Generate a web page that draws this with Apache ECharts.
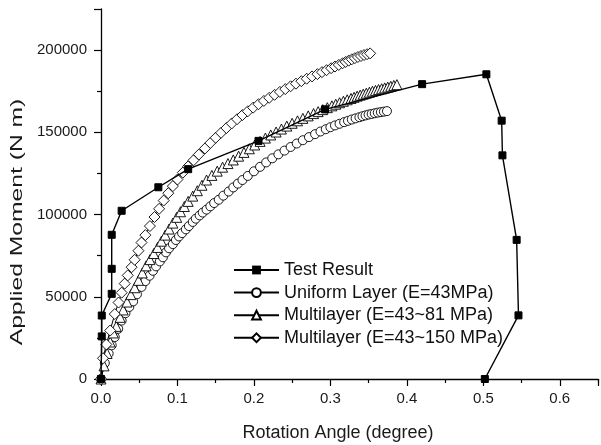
<!DOCTYPE html>
<html>
<head>
<meta charset="utf-8">
<script src="https://cdn.jsdelivr.net/npm/echarts@6/dist/echarts.min.js"></script>
<style>html,body{margin:0;padding:0;background:#fff}#c{width:601px;height:445px}</style>
</head>
<body>
<div id="c"></div>
<script>
const seriesNames = ['Test Result', 'Uniform Layer (E=43MPa)', 'Multilayer (E=43~81 MPa)', 'Multilayer (E=43~150 MPa)'];
const xTicks = [0, 0.1, 0.2, 0.3, 0.4, 0.5, 0.6];
const yTicks = [0, 50000, 100000, 150000, 200000];

const testResult = [[0,0],[0.001,25900],[0.001,38600],[0.014,51800],[0.014,67000],[0.014,87700],[0.027,102300],[0.075,116600],[0.114,127600],[0.206,144800],[0.293,164000],[0.42,179300],[0.504,185300],[0.524,157100],[0.525,136000],[0.5436,84600],[0.546,38700],[0.502,0]];

const uniformLayer = [[0,0],[0.005,9700],[0.01,15500],[0.014,20500],[0.018,25500],[0.0225,30500],[0.027,35500],[0.032,40000],[0.037,43800],[0.042,47200],[0.047,51500],[0.053,56000],[0.058,59500],[0.0635,62800],[0.068,65800],[0.072,68500],[0.077,71500],[0.081,74000],[0.085,77000],[0.089,79500],[0.094,82000],[0.098,84500],[0.102,86700],[0.106,88700],[0.111,91000],[0.115,93000],[0.12,95500],[0.124,97500],[0.129,99500],[0.133,101200],[0.138,103000],[0.143,105000],[0.148,107000],[0.154,109000],[0.16,111500],[0.167,114000],[0.173,116500],[0.179,118800],[0.185,121000],[0.192,123500],[0.2,126300],[0.208,129000],[0.216,131700],[0.224,134200],[0.232,136600],[0.24,138900],[0.248,141100],[0.256,143200],[0.264,145200],[0.272,147100],[0.28,148900],[0.287,150500],[0.294,151900],[0.3,153100],[0.306,154200],[0.312,155200],[0.318,156200],[0.323,157000],[0.328,157800],[0.333,158500],[0.338,159200],[0.342,159800],[0.346,160300],[0.35,160800],[0.354,161200],[0.358,161600],[0.362,162000],[0.366,162300],[0.37,162600],[0.374,162900]];

const multilayer81 = [[0,0],[0.004,8000],[0.008,15500],[0.012,22500],[0.016,28000],[0.02,32000],[0.025,37500],[0.029,42000],[0.034,46800],[0.039,51300],[0.044,55500],[0.049,60000],[0.054,64500],[0.059,68800],[0.064,72600],[0.069,76300],[0.074,80000],[0.079,83800],[0.084,87500],[0.089,91200],[0.094,94800],[0.099,98300],[0.104,101700],[0.109,104900],[0.114,108000],[0.12,111200],[0.126,114500],[0.132,117800],[0.138,121000],[0.145,123800],[0.152,126400],[0.159,128800],[0.166,131000],[0.173,133200],[0.18,135500],[0.187,137800],[0.194,140000],[0.201,142300],[0.208,144500],[0.215,146500],[0.222,148400],[0.229,150200],[0.236,152000],[0.243,153800],[0.25,155500],[0.257,157000],[0.264,158500],[0.271,160000],[0.278,161400],[0.284,162600],[0.29,163800],[0.296,165000],[0.302,166100],[0.307,167100],[0.312,168000],[0.317,168900],[0.322,169800],[0.327,170600],[0.331,171300],[0.335,172000],[0.339,172600],[0.343,173200],[0.347,173800],[0.351,174400],[0.355,175000],[0.359,175500],[0.363,176000],[0.367,176500],[0.371,177000],[0.375,177500],[0.379,178000],[0.383,178500],[0.387,179000]];

const multilayer150 = [[0,0],[0.0026,12600],[0.007,21000],[0.012,29500],[0.018,39500],[0.023,46500],[0.027,52500],[0.031,58000],[0.035,63000],[0.04,68000],[0.044,72500],[0.049,78000],[0.053,83000],[0.058,87500],[0.064,93000],[0.07,98500],[0.076,103500],[0.082,108500],[0.088,113000],[0.094,117300],[0.1,121300],[0.107,125500],[0.114,129300],[0.121,133000],[0.128,136500],[0.136,140200],[0.143,143500],[0.15,146700],[0.157,149700],[0.164,152600],[0.171,155400],[0.178,158000],[0.185,160500],[0.192,162800],[0.199,165000],[0.206,167100],[0.213,169100],[0.22,171000],[0.227,172800],[0.234,174600],[0.241,176300],[0.248,178000],[0.255,179600],[0.262,181100],[0.269,182600],[0.276,184000],[0.283,185400],[0.289,186600],[0.295,187800],[0.301,189000],[0.306,190000],[0.311,191000],[0.316,192000],[0.32,192800],[0.324,193600],[0.328,194400],[0.332,195100],[0.336,195800],[0.34,196400],[0.344,197000],[0.348,197500],[0.352,198000]];

const FONT = '"Liberation Sans", Arial, sans-serif';
const chart = echarts.init(document.getElementById('c'), null, {renderer: 'canvas'});

function modelSeries(name, data, symbol, size) {
  return {
    name, type: 'line', data, symbol, symbolSize: size,
    lineStyle: {color: '#000', width: 1},
    itemStyle: {color: '#fff', borderColor: '#000', borderWidth: 0.9},
    emphasis: {disabled: true}, z: 2
  };
}

chart.setOption({
  animation: false,
  backgroundColor: '#fff',
  grid: {left: 101, top: 9, width: 502, height: 370, containLabel: false},
  xAxis: {
    type: 'value', min: 0, max: 0.65, interval: 0.1,
    axisLine: {lineStyle: {color: '#000', width: 1.3}},
    axisTick: {show: true, inside: false, length: 7, lineStyle: {color: '#000', width: 1.2}},
    minorTick: {show: true, splitNumber: 2, length: 4, lineStyle: {color: '#000', width: 1.2}},
    splitLine: {show: false},
    axisLabel: {
      margin: 12, fontSize: 15, color: '#1a1a1a', fontFamily: FONT,
      formatter: v => xTicks.some(t => Math.abs(t - v) < 1e-9) ? v.toFixed(1) : ''
    }
  },
  yAxis: {
    type: 'value', min: 0, max: 225000, interval: 50000,
    axisLine: {show: true, lineStyle: {color: '#000', width: 1.3}},
    axisTick: {show: true, inside: false, length: 7, lineStyle: {color: '#000', width: 1.2}},
    minorTick: {show: true, splitNumber: 2, length: 4, lineStyle: {color: '#000', width: 1.2}},
    splitLine: {show: false},
    axisLabel: {
      margin: 14, fontSize: 15, color: '#1a1a1a', fontFamily: FONT,
      formatter: v => yTicks.includes(v) ? String(v) : ''
    }
  },
  legend: {
    data: seriesNames,
    orient: 'vertical', left: 228, top: 256,
    itemWidth: 45, itemHeight: 11, itemGap: 4.6,
    textStyle: {fontSize: 18, color: '#111', fontFamily: FONT, lineHeight: 18},
    selectedMode: false
  },
  graphic: [
    {type: 'text', x: 17, y: 222, rotation: Math.PI / 2, scaleX: 1.45, scaleY: 1,
     style: {text: 'Applied Moment (N m)', font: '17px ' + FONT, fill: '#1a1a1a', textAlign: 'center', textVerticalAlign: 'middle'}},
    {type: 'text', x: 338, y: 433,
     style: {text: 'Rotation Angle (degree)', font: '18px ' + FONT, fill: '#1a1a1a', textAlign: 'center', textVerticalAlign: 'middle'}}
  ],
  series: [
    modelSeries(seriesNames[1], uniformLayer, 'circle', 9),
    modelSeries(seriesNames[2], multilayer81, 'triangle', 10),
    modelSeries(seriesNames[3], multilayer150, 'diamond', 11),
    {
      name: seriesNames[0], type: 'line', data: testResult, symbol: 'rect', symbolSize: 7,
      lineStyle: {color: '#000', width: 1.4},
      itemStyle: {color: '#000', borderColor: '#000'},
      emphasis: {disabled: true}, z: 3
    }
  ]
});
</script>
</body>
</html>
